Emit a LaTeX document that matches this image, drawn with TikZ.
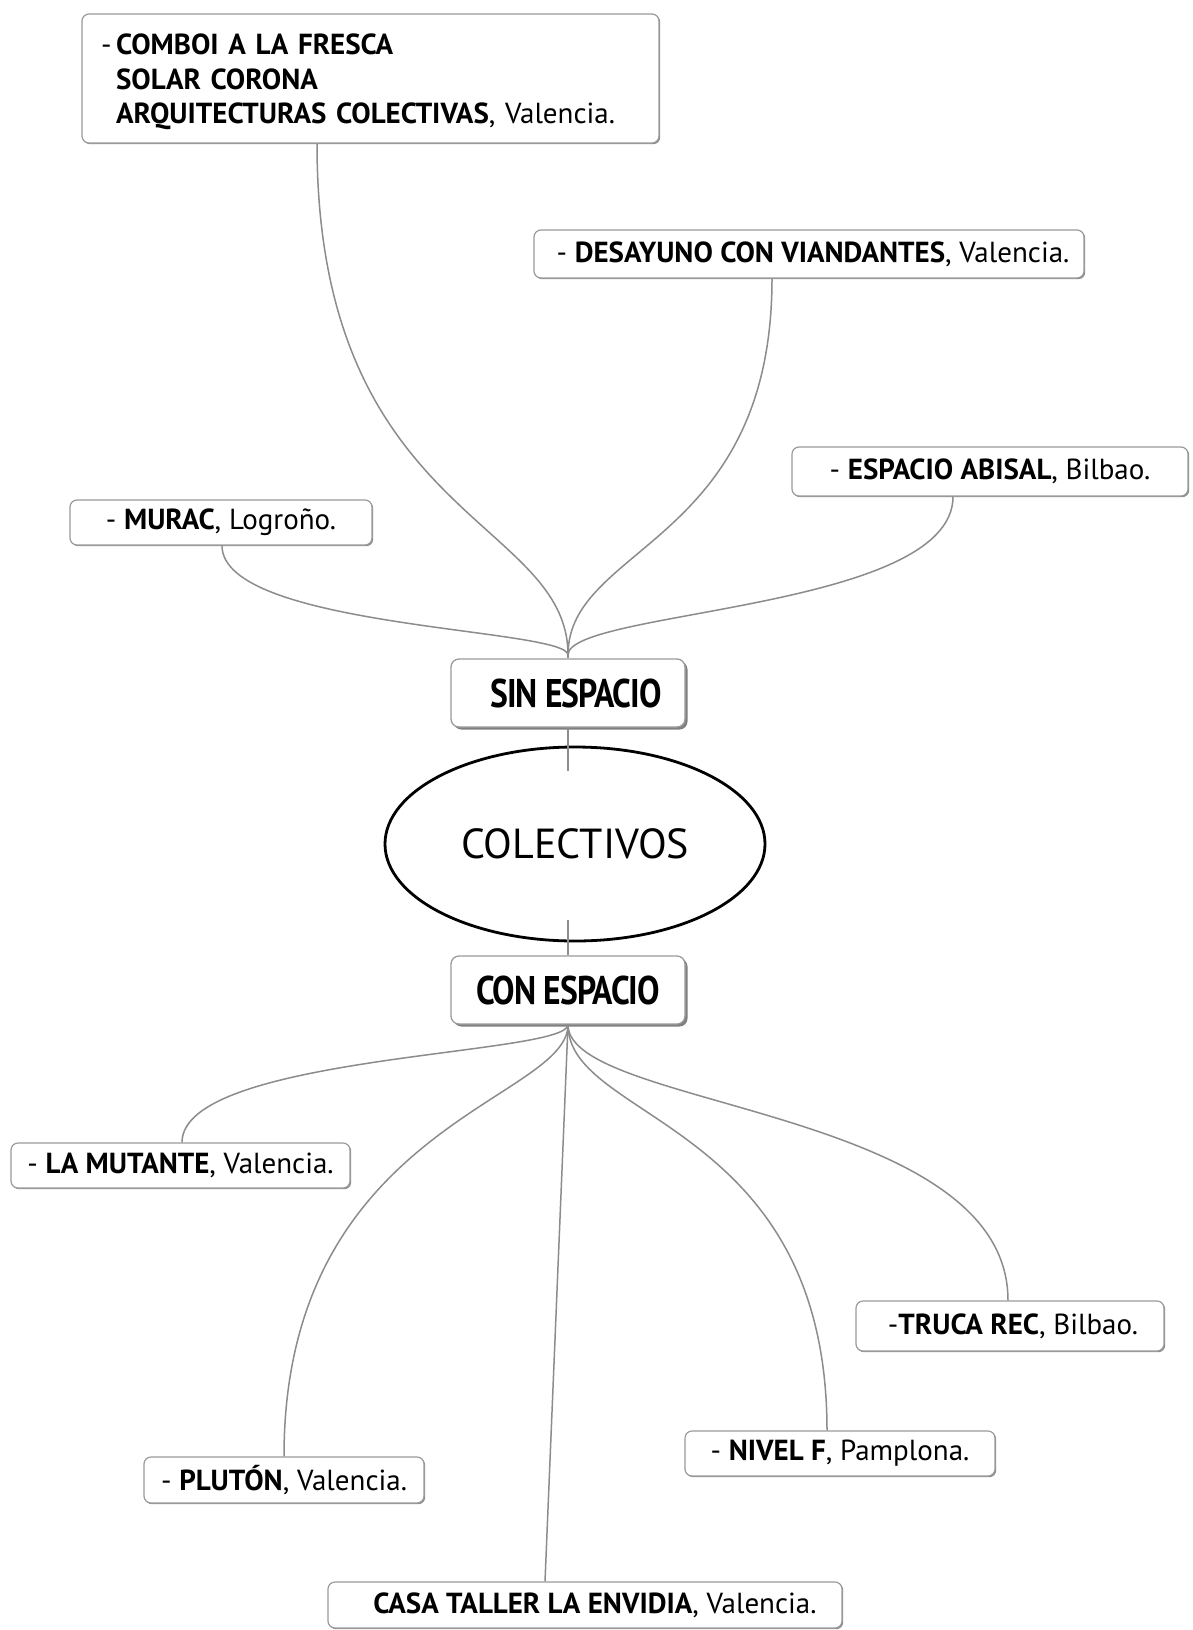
\documentclass[tikz,border=0pt]{standalone}
\usepackage{fontspec}
\setmainfont{PT Sans}
\newfontfamily\condfont[FakeStretch=0.84,LetterSpace=-2.5]{PT Sans}
\usetikzlibrary{shadows,shapes.geometric}
\definecolor{linegray}{HTML}{8C8C8C}
\definecolor{boxgray}{HTML}{9A9A9A}
\tikzset{
  leaf/.style={draw=boxgray, line width=1.2pt, rounded corners=7pt, fill=white,
    inner sep=0pt, font=\fontsize{29}{34}\selectfont, align=center,
    drop shadow={shadow xshift=1.2pt, shadow yshift=-1.2pt, fill=black!45, opacity=1}},
  catbox/.style={draw=boxgray, line width=1.3pt, rounded corners=8pt, fill=white,
    inner sep=0pt, minimum width=234, minimum height=68,
    font=\condfont\bfseries\fontsize{40}{42}\selectfont,
    drop shadow={shadow xshift=2.5pt, shadow yshift=-2.5pt, fill=black!50, opacity=1}},
  conn/.style={draw=linegray, line width=1.5pt}
}
\begin{document}
\begin{tikzpicture}[x=1pt,y=-1pt]
\useasboundingbox (0,0) rectangle (1192,1630);
\fill[white] (0,0) rectangle (1192,1630);

\coordinate (sjoin) at (568,655);

% nodes
\node[leaf, minimum width=577, minimum height=129, text width=539, align=left,
  font=\fontsize{29}{34.5}\selectfont] (comboi) at (370.5,78.5)
  {\rule{0pt}{28pt}\makebox[15pt][l]{-}\textbf{COMBOI A LA FRESCA}\\
   \hspace*{15pt}\textbf{SOLAR CORONA}\\
   \hspace*{15pt}\textbf{ARQUITECTURAS COLECTIVAS}, Valencia.};
\node[leaf, minimum width=550, minimum height=48] (desayuno) at (809,254)
  {\hspace*{8pt}- \textbf{DESAYUNO CON VIANDANTES}, Valencia.};
\node[leaf, minimum width=396, minimum height=49] (abisal) at (990,471.5)
  {- \textbf{ESPACIO ABISAL}, Bilbao.};
\node[leaf, minimum width=302, minimum height=45] (murac) at (221,522.5)
  {- \textbf{MURAC}, Logroño.};
\node[catbox] (sin) at (568,693) {\hspace*{16pt}SIN ESPACIO};
\node[draw=black, line width=2.8pt, ellipse, minimum width=380, minimum height=194,
  inner sep=0pt, font=\fontsize{42}{44}\selectfont] (colectivos) at (575,844) {COLECTIVOS};
\node[catbox] (con) at (568,990) {CON ESPACIO};
\node[leaf, minimum width=339, minimum height=45] (mutante) at (180.5,1165.5)
  {- \textbf{LA MUTANTE}, Valencia.};
\node[leaf, minimum width=308, minimum height=50] (truca) at (1010,1326)
  {\hspace*{6pt}-\textbf{TRUCA REC}, Bilbao.};
\node[leaf, minimum width=310, minimum height=45] (nivel) at (840,1453.5)
  {- \textbf{NIVEL F}, Pamplona.};
\node[leaf, minimum width=280, minimum height=46] (pluton) at (284,1480)
  {- \textbf{PLUTÓN}, Valencia.};
\node[leaf, minimum width=514, minimum height=46] (casa) at (585,1605)
  {\hspace*{20pt}\textbf{CASA TALLER LA ENVIDIA}, Valencia.};

\coordinate (ctop) at ([yshift=-25pt]colectivos.north);
\coordinate (cbot) at ([yshift=22pt]colectivos.south);

% upper branches
\draw[conn] ([xshift=-53.5pt]comboi.south) .. controls +(0,375) and +(0,-137) .. (sjoin);
\draw[conn] ([xshift=-37pt]desayuno.south) .. controls +(0,267) and +(0,-110) .. (sjoin);
\draw[conn] ([xshift=-37pt]abisal.south) .. controls +(0,114) and +(0,-45) .. (sjoin);
\draw[conn] ([xshift=1pt]murac.south) .. controls +(0,83) and +(0,-27) .. (sjoin);
\draw[conn] (sjoin) -- (sin.north);

% trunk
\draw[conn] (sin.south) -- (sin.south |- ctop);
\draw[conn] (con.north |- cbot) -- (con.north);

% lower branches
\draw[conn] (con.south) .. controls +(0,31) and +(0,-88) .. ([xshift=1.5pt]mutante.north);
\draw[conn] (con.south) .. controls +(0,76) and +(0,-331) .. (pluton.north);
\draw[conn] (con.south) -- ([xshift=-40pt]casa.north);
\draw[conn] (con.south) .. controls +(0,97) and +(0,-310) .. ([xshift=-13pt]nivel.north);
\draw[conn] (con.south) .. controls +(0,84) and +(0,-193) .. ([xshift=-2pt]truca.north);
\end{tikzpicture}
\end{document}
